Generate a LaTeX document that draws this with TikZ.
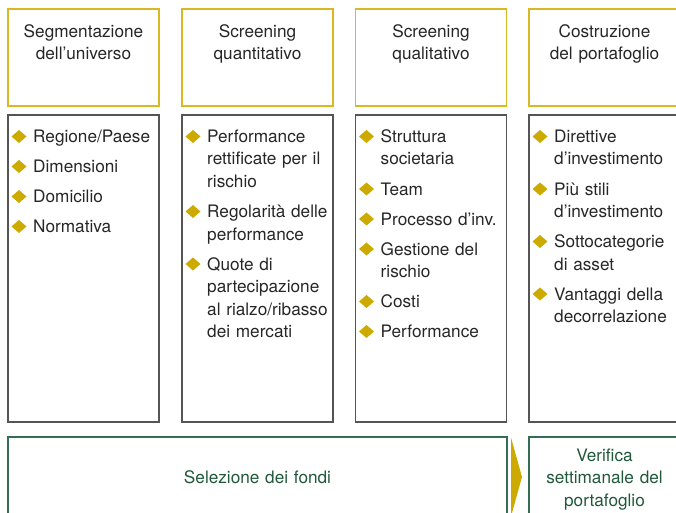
\documentclass[tikz,border=0pt]{standalone}
\usepackage{fontspec}
\setmainfont{TeX Gyre Heros}
\definecolor{goldline}{RGB}{218,184,36}
\definecolor{goldfill}{RGB}{204,170,0}
\definecolor{greenline}{RGB}{52,108,84}
\definecolor{greentext}{RGB}{32,88,58}
\definecolor{grayline}{RGB}{85,85,85}
\definecolor{textc}{RGB}{38,38,38}
\tikzset{
  headbox/.style={draw=goldline, line width=1.3pt, minimum width=151pt, minimum height=97pt, inner sep=0pt},
  bodybox/.style={draw=grayline, line width=1.1pt, minimum width=151pt, minimum height=307pt, inner sep=0pt},
  botbox/.style={draw=greenline, line width=1.3pt, inner sep=0pt},
  headtxt/.style={anchor=base, text width=151pt, align=center, inner sep=0pt, text=textc,
    font=\fontsize{17.2}{22.5}\selectfont},
  itm/.style={anchor=base west, text width=145pt, align=left, inner sep=0pt, text=textc,
    font=\fontsize{17.2}{22.5}\selectfont},
  greentxt/.style={anchor=base, text width=300pt, align=center, inner sep=0pt, text=greentext,
    font=\fontsize{17.2}{22.5}\selectfont},
}
\newcommand\bitem[4]{%
  \coordinate (#1b) at (#2+11,#3-6);
  \fill[goldfill] (#1b) ++(-7.5,0) -- ++(7.5,-6.5) -- ++(7.5,6.5) -- ++(-7.5,6.5) -- cycle;
  \node[itm] (#1) at (#2+25,#3) {#4};
}
\begin{document}
\begin{tikzpicture}[x=1pt,y=-1pt]
\useasboundingbox (0,0) rectangle (676,513);
% header boxes
\node[headbox] (h1) at (83.5,57.5) {};
\node[headbox] (h2) at (257.5,57.5) {};
\node[headbox] (h3) at (431,57.5) {};
\node[headbox] (h4) at (604.5,57.5) {};
\node[headtxt] (t1) at (83.5,37.5) {Segmentazione\\dell’universo};
\node[headtxt] (t2) at (257.5,37.5) {Screening\\quantitativo};
\node[headtxt] (t3) at (431,37.5) {Screening\\qualitativo};
\node[headtxt] (t4) at (604.5,37.5) {Costruzione\\del portafoglio};
% body boxes
\node[bodybox] (b1) at (83.5,268.5) {};
\node[bodybox] (b2) at (257.5,268.5) {};
\node[bodybox] (b3) at (431,268.5) {};
\node[bodybox] (b4) at (604.5,268.5) {};
% column 1
\bitem{a1}{8}{142.5}{Regione/Paese}
\bitem{a2}{8}{172.5}{Dimensioni}
\bitem{a3}{8}{202.5}{Domicilio}
\bitem{a4}{8}{232.5}{Normativa}
% column 2
\bitem{q1}{182}{142.5}{Performance\\rettificate per il\\rischio}
\bitem{q2}{182}{217.5}{Regolarità delle\\performance}
\bitem{q3}{182}{270}{Quote di\\partecipazione\\al rialzo/ribasso\\dei mercati}
% column 3
\bitem{l1}{355.5}{142.5}{Struttura\\societaria}
\bitem{l2}{355.5}{195}{Team}
\bitem{l3}{355.5}{225}{Processo d’inv.}
\bitem{l4}{355.5}{255}{Gestione del\\rischio}
\bitem{l5}{355.5}{307.5}{Costi}
\bitem{l6}{355.5}{337.5}{Performance}
% column 4
\bitem{c1}{529}{142.5}{Direttive\\d’investimento}
\bitem{c2}{529}{195}{Più stili\\d’investimento}
\bitem{c3}{529}{247.5}{Sottocategorie\\di asset}
\bitem{c4}{529}{300}{Vantaggi della\\decorrelazione}
% bottom
\node[botbox, minimum width=499pt, minimum height=80pt] (sel) at (257.5,477) {};
\node[botbox, minimum width=151pt, minimum height=80pt] (ver) at (604.5,477) {};
\node[greentxt] (selt) at (257.5,483) {Selezione dei fondi};
\node[greentxt] (vert) at (604.5,461) {Verifica\\settimanale del\\portafoglio};
\fill[goldfill] (511,437.5) -- (522,477) -- (511,516.5) -- cycle;
\end{tikzpicture}
\end{document}
